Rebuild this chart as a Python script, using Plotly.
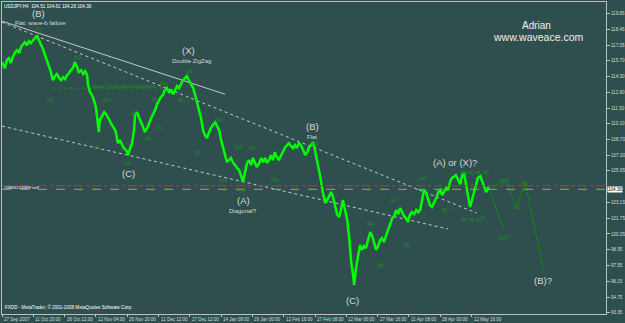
import plotly.graph_objects as go

# ---------------- data ----------------
bars = [0,6,10,14,18,22,27,31,35,39,43,47,51,55,59,63,67,72,76,80,84,88,92,96,100,102,104,108,112,117,
        121,125,129,133,137,141,145,149,153,157,162,166,170,174,176,180,184,188,192,194,196,198,200,205,209,213,217,221,225,229,
        233,235,237,241,245,249,254,258,262,266,270,272,276,280,284,288,292,297,301,305,309,313,317,321,325,329,333,337,342,346,
        350,354,358,362,366,370,374,378,382,387,391,395,399,403,407,411,415,419,423,427,431,436,440,444,448,452,456,460,464,468,
        472,476,481,485,489,493,497,501,505,509,513,517,521,526,530,534,538,542,546,550,554,558,562,566,571,575,579,583,587,591,
        595,599,603,607,611,616,620,624,628,632,636,640,644,648,652,656,661,665,669,673,677,681,685,689,693,697,701,706,710,714,
        718,720,724,728,732,736,740,744,748,753,757,761,765,769,773,777,781,785,789,793,798,802,806,810,814,818,822,826,830,834,
        838,843,847,851,855,859,863,867,871,875,879,883,888,892,896,900,904,908,912,916,920,924,928,933,937,941,945,949,953,957,
        961,965,969,973,978,982,986,990,994,996]

close = [115.57,115.04,115.75,115.92,115.48,116.01,116.45,116.63,116.37,116.90,
         117.16,117.34,117.07,117.43,117.25,117.52,117.69,117.87,117.52,117.16,
         116.72,116.19,115.75,115.21,114.68,114.15,113.97,114.33,114.51,114.15,
         113.97,114.24,114.06,114.42,114.59,114.86,115.04,115.57,115.21,114.68,
         114.86,114.51,114.77,114.42,113.53,112.91,112.65,112.20,111.58,110.87,
         109.99,109.37,110.43,110.87,111.14,110.96,110.61,110.25,109.99,109.72,
         109.37,108.84,108.39,108.66,108.22,107.95,107.77,107.33,107.95,108.39,
         109.55,110.87,111.14,110.61,110.25,109.90,109.37,109.72,110.25,110.61,
         110.96,111.32,111.85,112.20,112.47,112.65,113.09,113.27,112.91,113.09,
         112.73,113.09,113.44,113.27,113.62,113.97,114.15,114.33,113.97,113.62,
         113.27,112.65,112.03,111.32,110.61,109.55,109.10,108.84,109.37,109.72,
         109.99,110.25,109.90,109.55,108.66,107.95,107.33,106.71,106.89,107.07,
         106.71,106.45,106.18,106.00,105.56,104.94,105.83,106.62,106.89,106.45,
         107.07,106.71,106.27,106.62,107.07,106.71,107.07,106.62,106.89,107.33,
         106.89,107.60,107.15,106.89,107.33,107.77,108.04,108.22,108.39,108.13,
         107.95,108.22,107.95,108.39,108.22,107.77,107.33,107.60,108.04,108.22,
         108.48,107.77,106.89,106.18,105.12,104.05,103.08,103.35,103.79,104.05,
         103.61,102.73,102.11,101.84,102.46,103.35,102.64,101.57,99.98,97.85,
         96.70,95.82,97.32,98.21,99.36,98.92,99.27,99.09,99.80,100.51,
         100.16,99.63,98.92,99.27,99.80,99.98,99.63,100.16,100.69,101.13,
         101.75,101.93,102.46,102.11,102.64,102.28,101.93,101.75,101.40,102.02,
         102.28,102.11,102.46,102.28,102.46,103.35,104.23,104.05,103.35,102.90,
         102.73,103.08,103.52,104.05,104.23,103.79,104.05,104.41,104.23,104.94,
         105.30,105.47,105.56,105.12,104.76,105.56,105.74,104.67,103.52,102.73,
         103.35,104.05,104.67,105.30,105.47,104.94,104.59,104.05,104.41,104.30]

# projected wave paths (dark green)
proj_a_bars = [996, 1025]
proj_a_price = [104.30, 100.87]
proj_b_bars = [996, 1029, 1053, 1070, 1106]
proj_b_price = [104.30, 105.12, 102.73, 104.94, 97.32]

# trend lines (bar, price) end points
trend_solid = ([0, 456], [119.20, 112.73])
trend_dot_upper = ([0, 971], [119.11, 102.19])
trend_dot_lower = ([0, 912], [109.90, 100.78])
ext_line = ([102, 338], [113.27, 113.27])

order_price = 104.62
bid_price = 104.30

x_tick_bars = [0, 64, 128, 192, 256, 320, 384, 448, 512, 576, 640, 704, 768, 832, 896, 960]
x_tick_labels = ["27 Sep 2007", "11 Oct 20:00", "26 Oct 12:00", "12 Nov 04:00", "26 Nov 20:00",
                 "11 Dec 12:00", "27 Dec 12:00", "14 Jan 08:00", "29 Jan 00:00", "12 Feb 16:00",
                 "27 Feb 08:00", "12 Mar 00:00", "27 Mar 16:00", "11 Apr 08:00", "28 Apr 00:00",
                 "12 May 16:00"]
y_tick_vals = [119.85, 118.45, 117.05, 115.70, 114.30, 112.90, 111.50, 110.10, 108.70, 107.30,
               105.95, 103.15, 101.75, 100.35, 98.95, 97.55, 96.15, 94.75, 93.35]

big_labels = [("(B)", 74, 119.92), ("(X)", 382, 116.63), ("(C)", 258, 105.74), ("(A)", 493, 103.35),
              ("(B)", 634, 109.90), ("(C)", 716, 94.49), ("(A) or (X)?", 926, 106.71), ("(B)?", 1106, 96.26)]
note_labels = [("Flat: wave-b failure", 78, 119.03), ("Double ZigZag", 387, 115.66),
               ("Diagonal?", 493, 102.37), ("Flat", 634, 108.93)]
wave_labels = [("(Y)", 76, 118.49), ("(b)", 155, 116.01), ("wave (c) limited extension", 247, 113.44),
               ("(c)", 100, 112.20), ("(iv)", 215, 112.20), ("(c)", 313, 112.29), ("(b)", 368, 112.20),
               ("(w)", 331, 113.71), ("(y)", 384, 114.77), ("(a)", 268, 111.05), ("(x)", 323, 109.81),
               ("(b)", 299, 108.84), ("(iii)", 194, 108.04), ("(v)", 258, 106.62), ("(i)", 399, 107.60),
               ("(iii)", 442, 110.43), ("(iv)", 485, 108.04), ("(ii)", 511, 108.04), ("(iii)", 452, 105.12),
               ("(iv)", 558, 105.21), ("(v)", 491, 104.23), ("(c)", 640, 108.39), ("(c)", 800, 103.35),
               ("(a)", 859, 105.30), ("(c)(a) or (b)", 967, 105.83), ("(b)", 906, 102.46),
               ("(a) or (c)?", 963, 101.66), ("(c)?", 1027, 105.12), ("(e)", 1068, 104.85),
               ("(d)", 1053, 102.73), ("(c)?", 1025, 100.07), ("(a)", 753, 101.31), ("(b)", 773, 97.59),
               ("(ii)", 828, 99.36)]

# ---------------- figure ----------------
BG = "#2F4F4F"
FONT = "Liberation Sans, Arial, sans-serif"
fig = go.Figure()

for (xs, ys), dash, col in [(trend_solid, "solid", "#C4C8C8"), (trend_dot_upper, "dot", "#C4C8C8"),
                            (trend_dot_lower, "dot", "#C4C8C8"), (ext_line, "dot", "#1E8B1E")]:
    fig.add_trace(go.Scatter(x=xs, y=ys, mode="lines", line=dict(color=col, width=1, dash=dash),
                             hoverinfo="skip"))

fig.add_trace(go.Scatter(x=proj_a_bars, y=proj_a_price, mode="lines",
                         line=dict(color="#0E8A0E", width=1), hoverinfo="skip"))
fig.add_trace(go.Scatter(x=proj_b_bars, y=proj_b_price, mode="lines",
                         line=dict(color="#0E8A0E", width=1), hoverinfo="skip"))

fig.add_trace(go.Scatter(x=bars, y=close, mode="lines",
                         line=dict(color="#00FF00", width=2.5), name="USDJPY,H4"))

fig.add_shape(type="line", xref="paper", x0=0, x1=1, yref="y", y0=order_price, y1=order_price,
              line=dict(color="#D42A2A", width=1, dash="dashdot"))
fig.add_shape(type="line", xref="paper", x0=0, x1=1, yref="y", y0=bid_price, y1=bid_price,
              line=dict(color="#5CC65C", width=1, dash="dash"))

ann = []
for t, x, y in big_labels:
    ann.append(dict(text=t, x=x, y=y, showarrow=False, borderpad=0,
                    font=dict(family=FONT, size=9.5, color="#D8D8D8")))
for t, x, y in note_labels:
    ann.append(dict(text=t, x=x, y=y, showarrow=False, borderpad=0,
                    font=dict(family=FONT, size=6, color="#D8D8D8")))
for t, x, y in wave_labels:
    ann.append(dict(text=t, x=x, y=y, showarrow=False, borderpad=0,
                    font=dict(family=FONT, size=5.5, color="#139A13")))
for t, x in zip(x_tick_labels, x_tick_bars):
    ann.append(dict(text=t, x=x, xshift=1, yref="paper", y=0, yshift=-1.5, xanchor="left", yanchor="top",
                    showarrow=False, borderpad=0, font=dict(family=FONT, size=4.5, color="#D8D8D8")))

ann.append(dict(text="Adrian", x=1092, y=118.78, showarrow=False,
                font=dict(family=FONT, size=10, color="#F0F0F0")))
ann.append(dict(text="www.waveace.com", x=1096, y=117.76, showarrow=False,
                font=dict(family=FONT, size=10.5, color="#F0F0F0")))
ann.append(dict(text="USDJPY,H4  104.51 104.61 104.28 104.30", xref="paper", yref="paper", x=0.002, y=1.0,
                yshift=-0.5, xanchor="left", yanchor="top", showarrow=False, borderpad=0,
                font=dict(family=FONT, size=4.6, color="#FFFFFF")))
ann.append(dict(text="FXDD - MetaTrader, \u00a9 2001-2008 MetaQuotes Software Corp.", xref="paper", yref="paper",
                x=0.002, y=0.005, xanchor="left", yanchor="bottom", showarrow=False,
                font=dict(family=FONT, size=4.6, color="#FFFFFF")))
ann.append(dict(text="#0965213489 sell", xref="paper", x=0.002, y=104.46, xanchor="left", yanchor="middle",
                showarrow=False, borderpad=0, font=dict(family=FONT, size=4.4, color="#FFFFFF")))
ann.append(dict(text="104.30", xref="paper", x=1.0, xshift=1, y=bid_price, xanchor="left", yanchor="middle",
                showarrow=False, bgcolor="#FFFFFF", borderpad=0,
                font=dict(family=FONT, size=4.6, color="#000000")))

fig.update_layout(
    width=625, height=323,
    margin=dict(l=2, r=19, t=2, b=9, pad=0),
    paper_bgcolor=BG, plot_bgcolor=BG,
    showlegend=False,
    annotations=ann,
    xaxis=dict(range=[0, 1235], tickvals=x_tick_bars, showticklabels=False,
               ticks="outside", ticklen=2, tickcolor="#C0C0C0",
               showgrid=False, zeroline=False, showline=True, linecolor="#C0C0C0", linewidth=1,
               mirror=True, automargin=False, fixedrange=True),
    yaxis=dict(range=[93.25, 120.9], side="right", tickvals=y_tick_vals,
               ticktext=["%.2f" % v for v in y_tick_vals],
               ticks="outside", ticklen=3, tickcolor="#C0C0C0",
               tickfont=dict(family=FONT, size=4.6, color="#D8D8D8"),
               showgrid=False, zeroline=False, showline=True, linecolor="#C0C0C0", linewidth=1,
               mirror=True, automargin=False, fixedrange=True),
)

fig.write_html("out.html")
